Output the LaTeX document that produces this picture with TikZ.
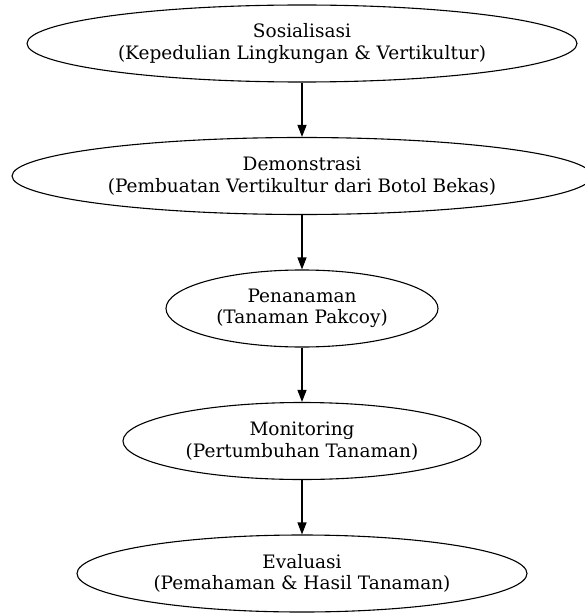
\documentclass[tikz,border=0pt]{standalone}
\usepackage{fontspec}
\setmainfont{DejaVu Serif}
\usetikzlibrary{shapes.geometric,arrows.meta}

\begin{document}
\begin{tikzpicture}[x=1pt,y=-1pt,
  tahap/.style={ellipse, draw, line width=1.1pt, inner sep=0pt, minimum height=77pt,
    align=center, font=\fontsize{18.5}{21.5}\selectfont},
  panah/.style={-{Triangle[length=12pt,width=9pt]}, line width=1.1pt}]
\useasboundingbox (0,0) rectangle (584,615);

\node[tahap, minimum width=550pt] (sos) at (302,43.5) {Sosialisasi\\(Kepedulian Lingkungan \& Vertikultur)};
\node[tahap, minimum width=580pt] (demo) at (302,176) {Demonstrasi\\(Pembuatan Vertikultur dari Botol Bekas)};
\node[tahap, minimum width=272pt] (tanam) at (302,308.5) {Penanaman\\(Tanaman Pakcoy)};
\node[tahap, minimum width=358pt] (mon) at (302,441) {Monitoring\\(Pertumbuhan Tanaman)};
\node[tahap, minimum width=450pt] (eval) at (302,573.5) {Evaluasi\\(Pemahaman \& Hasil Tanaman)};

\draw[panah] (sos) -- (demo);
\draw[panah] (demo) -- (tanam);
\draw[panah] (tanam) -- (mon);
\draw[panah] (mon) -- (eval);
\end{tikzpicture}
\end{document}
